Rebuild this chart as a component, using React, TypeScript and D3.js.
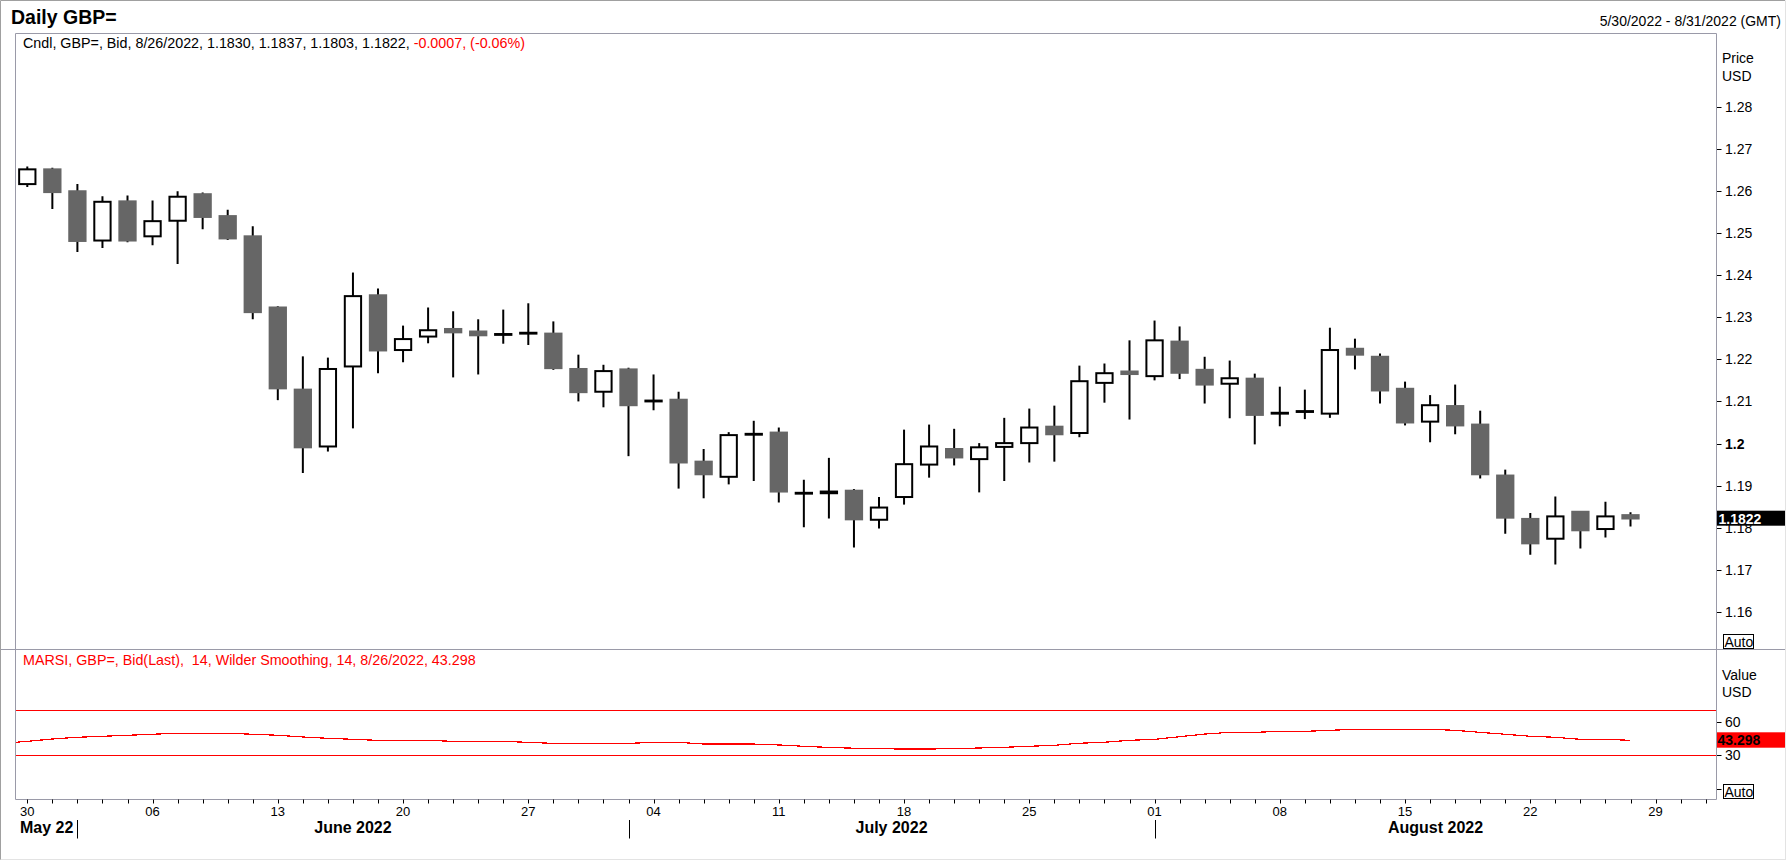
import React from 'react';
import * as d3 from 'd3';

// ---------- data ----------
const dates = [
  '2022-05-30', '2022-05-31', '2022-06-01', '2022-06-02', '2022-06-03',
  '2022-06-06', '2022-06-07', '2022-06-08', '2022-06-09', '2022-06-10',
  '2022-06-13', '2022-06-14', '2022-06-15', '2022-06-16', '2022-06-17',
  '2022-06-20', '2022-06-21', '2022-06-22', '2022-06-23', '2022-06-24',
  '2022-06-27', '2022-06-28', '2022-06-29', '2022-06-30', '2022-07-01',
  '2022-07-04', '2022-07-05', '2022-07-06', '2022-07-07', '2022-07-08',
  '2022-07-11', '2022-07-12', '2022-07-13', '2022-07-14', '2022-07-15',
  '2022-07-18', '2022-07-19', '2022-07-20', '2022-07-21', '2022-07-22',
  '2022-07-25', '2022-07-26', '2022-07-27', '2022-07-28', '2022-07-29',
  '2022-08-01', '2022-08-02', '2022-08-03', '2022-08-04', '2022-08-05',
  '2022-08-08', '2022-08-09', '2022-08-10', '2022-08-11', '2022-08-12',
  '2022-08-15', '2022-08-16', '2022-08-17', '2022-08-18', '2022-08-19',
  '2022-08-22', '2022-08-23', '2022-08-24', '2022-08-25', '2022-08-26',
];

const opens = [
  1.2616, 1.2651, 1.2599, 1.2482, 1.2575, 1.2492, 1.2529, 1.2592, 1.2540, 1.2492,
  1.2323, 1.2128, 1.1993, 1.2183, 1.2352, 1.2222, 1.2254, 1.2272, 1.2266, 1.2258,
  1.2261, 1.2261, 1.2177, 1.2123, 1.2176, 1.2100, 1.2104, 1.1957, 1.1921, 1.2021,
  1.2026, 1.1881, 1.1882, 1.1888, 1.1819, 1.1873, 1.1950, 1.1987, 1.1963, 1.1992,
  1.2001, 1.2040, 1.2025, 1.2144, 1.2171, 1.2160, 1.2242, 1.2175, 1.2142, 1.2154,
  1.2071, 1.2075, 1.2071, 1.2225, 1.2206, 1.2130, 1.2052, 1.2089, 1.2045, 1.1924,
  1.1821, 1.1774, 1.1838, 1.1797, 1.1830,
];
const highs = [
  1.2658, 1.2655, 1.2616, 1.2587, 1.2589, 1.2577, 1.2599, 1.2596, 1.2555, 1.2516,
  1.2326, 1.2207, 1.2204, 1.2406, 1.2368, 1.2280, 1.2323, 1.2314, 1.2295, 1.2318,
  1.2333, 1.2290, 1.2211, 1.2187, 1.2180, 1.2164, 1.2123, 1.1987, 1.2027, 1.2054,
  1.2038, 1.1914, 1.1966, 1.1892, 1.1873, 1.2033, 1.2045, 1.2035, 1.2001, 1.2061,
  1.2083, 1.2090, 1.2185, 1.2190, 1.2245, 1.2292, 1.2278, 1.2206, 1.2197, 1.2166,
  1.2135, 1.2128, 1.2275, 1.2249, 1.2214, 1.2147, 1.2115, 1.2140, 1.2078, 1.1938,
  1.1835, 1.1874, 1.1838, 1.1862, 1.1837,
];
const lows = [
  1.2609, 1.2557, 1.2455, 1.2464, 1.2478, 1.2471, 1.2426, 1.2509, 1.2483, 1.2295,
  1.2103, 1.1930, 1.1981, 1.2036, 1.2167, 1.2193, 1.2238, 1.2157, 1.2164, 1.2237,
  1.2234, 1.2175, 1.2100, 1.2086, 1.1970, 1.2079, 1.1893, 1.1870, 1.1903, 1.1911,
  1.1860, 1.1801, 1.1822, 1.1753, 1.1798, 1.1855, 1.1919, 1.1948, 1.1884, 1.1911,
  1.1955, 1.1957, 1.2015, 1.2097, 1.2057, 1.2150, 1.2153, 1.2095, 1.2060, 1.1998,
  1.2041, 1.2058, 1.2061, 1.2176, 1.2095, 1.2043, 1.2003, 1.2022, 1.1917, 1.1786,
  1.1736, 1.1713, 1.1751, 1.1777, 1.1803,
];
const closes = [
  1.2651, 1.2597, 1.2481, 1.2574, 1.2482, 1.2528, 1.2586, 1.2538, 1.2487, 1.2312,
  1.2131, 1.1991, 1.2177, 1.2350, 1.2221, 1.2248, 1.2269, 1.2264, 1.2257, 1.2260,
  1.2263, 1.2179, 1.2122, 1.2172, 1.2091, 1.2102, 1.1955, 1.1927, 1.2020, 1.2023,
  1.1886, 1.1883, 1.1886, 1.1820, 1.1848, 1.1951, 1.1993, 1.1967, 1.1991, 1.2001,
  1.2038, 1.2022, 1.2148, 1.2167, 1.2165, 1.2245, 1.2168, 1.2140, 1.2155, 1.2068,
  1.2073, 1.2077, 1.2222, 1.2211, 1.2126, 1.2050, 1.2091, 1.2043, 1.1927, 1.1824,
  1.1763, 1.1827, 1.1794, 1.1827, 1.1822,
];

// extra axis days after the last candle
const axisExtraDates = ['2022-08-29', '2022-08-30', '2022-08-31'];

// MARSI value of the day before the first candle (line enters from the left edge)
const rsiLeadValue = 40.6;
const rsiValues = [
  42.4, 44.5, 46.0, 46.9, 47.8, 48.7, 49.6, 49.6, 49.6, 48.7,
  47.8, 46.3, 45.1, 44.2, 43.3, 43.3, 43.3, 42.4, 42.4, 42.4,
  41.5, 40.6, 40.6, 40.6, 40.6, 41.5, 41.5, 40.0, 40.0, 40.0,
  39.2, 38.0, 37.0, 36.3, 35.8, 35.6, 35.6, 35.9, 36.5, 37.1,
  38.0, 38.9, 40.7, 41.6, 43.3, 44.2, 46.5, 48.9, 50.4, 50.4,
  51.3, 51.3, 52.2, 53.1, 53.1, 53.1, 53.1, 52.2, 50.4, 48.7,
  46.9, 46.0, 44.2, 44.2, 43.298,
];

const priceTicks = [1.16, 1.17, 1.18, 1.19, 1.2, 1.21, 1.22, 1.23, 1.24, 1.25, 1.26, 1.27, 1.28];
const priceBoldTick = 1.2;
const rsiTicks = [60, 30, 0];
const rsiLabeledTicks = [60, 30];
const rsiBands = [70, 30];
const monthLabels = ['May 22', 'June 2022', 'July 2022', 'August 2022'];

const titleText = 'Daily GBP=';
const rangeText = '5/30/2022 - 8/31/2022 (GMT)';
const legendBlack = 'Cndl, GBP=, Bid, 8/26/2022, 1.1830, 1.1837, 1.1803, 1.1822, ';
const legendRed = '-0.0007, (-0.06%)';
const rsiLegend = 'MARSI, GBP=, Bid(Last),  14, Wilder Smoothing, 14, 8/26/2022, 43.298';
const lastPriceLabel = '1.1822';
const lastRsiLabel = '43.298';

// ---------- layout ----------
const W = 1788;
const H = 862;
const plotL = 15.5;
const plotR = 1716.5;
const priceTop = 33.5;
const priceBottom = 649.5;
const rsiBottom = 799.5;
const FONT = '"Liberation Sans", Arial, Helvetica, sans-serif';
const BORDER = '#9a9aa8';

export default function App() {
  const axisDates = [...dates, ...axisExtraDates];
  const parse = d3.timeParse('%Y-%m-%d');
  const axisParsed = axisDates.map((d) => parse(d) as Date);

  const x = d3.scaleLinear().domain([0, 67]).range([27.3, 27.3 + 67 * 25.05]);
  const y = d3.scaleLinear().domain([1.16, 1.28]).range([612, 106.6]);
  const yr = d3.scaleLinear().domain([30, 70]).range([755.3, 710.3]);

  const bodyW = 18.3;

  const rsiPts: [number, number][] = [[-1, rsiLeadValue], ...rsiValues.map((v, i) => [i, v] as [number, number])];
  const rsiLine = d3
    .line<[number, number]>()
    .x((d) => x(d[0]))
    .y((d) => yr(d[1]))(rsiPts);

  const monthStarts: number[] = [];
  axisParsed.forEach((d, i) => {
    if (i === 0 || d.getMonth() !== axisParsed[i - 1].getMonth()) monthStarts.push(i);
  });
  const fmtDay = d3.timeFormat('%d');

  return (
    <svg
      width={W}
      height={H}
      viewBox={`0 0 ${W} ${H}`}
      style={{ position: 'absolute', left: 0, top: 0, background: '#fff' }}
      fontFamily={FONT}
    >
      <rect x={0} y={0} width={W} height={H} fill="#fff" />
      {/* outer frame */}
      <line x1={0.5} y1={0.5} x2={W - 3} y2={0.5} stroke="#a0a0a0" />
      <line x1={0.5} y1={0.5} x2={0.5} y2={H - 2} stroke="#a0a0a0" />
      <line x1={W - 2.5} y1={0.5} x2={W - 2.5} y2={H - 2} stroke="#e3e3e3" />
      <line x1={0.5} y1={H - 2.5} x2={W - 2.5} y2={H - 2.5} stroke="#e3e3e3" />

      {/* header */}
      <text x={11} y={24} fontSize={19.5} fontWeight="bold" fill="#000">
        {titleText}
      </text>
      <text x={1781} y={26} fontSize={14} textAnchor="end" fill="#000">
        {rangeText}
      </text>

      <defs>
        <clipPath id="priceClip">
          <rect x={plotL} y={priceTop} width={plotR - plotL} height={priceBottom - priceTop} />
        </clipPath>
        <clipPath id="rsiClip">
          <rect x={plotL} y={priceBottom} width={plotR - plotL} height={rsiBottom - priceBottom} />
        </clipPath>
      </defs>

      {/* candles */}
      <g clipPath="url(#priceClip)">
        {dates.map((d, i) => {
          const cx = x(i);
          const o = opens[i];
          const c = closes[i];
          const up = c >= o;
          const top = y(Math.max(o, c));
          const bot = y(Math.min(o, c));
          return (
            <g key={d}>
              <line x1={cx} x2={cx} y1={y(highs[i])} y2={y(lows[i])} stroke="#000" strokeWidth={2} />
              {up ? (
                <rect
                  x={cx - bodyW / 2 + 1}
                  y={top}
                  width={bodyW - 2}
                  height={Math.max(bot - top, 0.01)}
                  fill="#fff"
                  stroke="#000"
                  strokeWidth={2}
                />
              ) : (
                <rect
                  x={cx - bodyW / 2}
                  y={top - 1}
                  width={bodyW}
                  height={Math.max(bot - top + 2, 3)}
                  fill="#666666"
                />
              )}
            </g>
          );
        })}
      </g>

      {/* legend */}
      <text x={23} y={48} fontSize={14.3} style={{ whiteSpace: 'pre' }}>
        <tspan fill="#000">{legendBlack}</tspan>
        <tspan fill="#ff0000">{legendRed}</tspan>
      </text>

      {/* price axis */}
      <text x={1722} y={63} fontSize={14} fill="#000">Price</text>
      <text x={1722} y={81} fontSize={14} fill="#000">USD</text>
      {priceTicks.map((v) => (
        <g key={v}>
          <line x1={plotR} x2={plotR + 5} y1={Math.round(y(v)) + 0.5} y2={Math.round(y(v)) + 0.5} stroke="#000" />
          <text
            x={1725}
            y={y(v)}
            dy="0.36em"
            fontSize={14}
            fontWeight={v === priceBoldTick ? 'bold' : 'normal'}
            fill="#000"
          >
            {String(+v.toFixed(2))}
          </text>
        </g>
      ))}
      <rect x={plotR} y={510.7} width={W - 3 - plotR} height={15} fill="#000" />
      <text x={1718.5} y={523.5} fontSize={14} fontWeight="bold" fill="#fff">
        {lastPriceLabel}
      </text>
      <rect x={1723.5} y={634.5} width={30} height={14} fill="#fff" stroke="#000" />
      <text x={1724.5} y={646.5} fontSize={14} fill="#000">Auto</text>

      {/* RSI panel */}
      <text x={23} y={665} fontSize={14.3} fill="#ff0000" style={{ whiteSpace: 'pre' }}>
        {rsiLegend}
      </text>
      <g clipPath="url(#rsiClip)">
        {rsiBands.map((b) => (
          <line
            key={b}
            x1={plotL}
            x2={plotR}
            y1={Math.round(yr(b)) + 0.5}
            y2={Math.round(yr(b)) + 0.5}
            stroke="#ff0000"
            strokeWidth={1.2}
          />
        ))}
        <path d={rsiLine || ''} fill="none" stroke="#ff0000" strokeWidth={1.2} shapeRendering="crispEdges" />
      </g>
      <text x={1722} y={680} fontSize={14} fill="#000">Value</text>
      <text x={1722} y={697} fontSize={14} fill="#000">USD</text>
      {rsiTicks.map((v) => (
        <g key={v}>
          <line x1={plotR} x2={plotR + 5} y1={Math.round(yr(v)) + 0.5} y2={Math.round(yr(v)) + 0.5} stroke="#000" />
          {rsiLabeledTicks.includes(v) && (
            <text x={1725} y={yr(v)} dy="0.36em" fontSize={14} fill="#000">
              {v}
            </text>
          )}
        </g>
      ))}
      <rect x={plotR} y={732.3} width={W - 3 - plotR} height={15.4} fill="#ff0000" />
      <text x={1717.5} y={745.3} fontSize={14} fontWeight="bold" fill="#000">
        {lastRsiLabel}
      </text>
      <rect x={1723.5} y={784.5} width={30} height={14} fill="#fff" stroke="#000" />
      <text x={1724.5} y={796.5} fontSize={14} fill="#000">Auto</text>

      {/* panel borders */}
      <line x1={plotL} x2={plotR} y1={priceTop} y2={priceTop} stroke={BORDER} />
      <line x1={plotL} x2={plotL} y1={priceTop} y2={rsiBottom} stroke={BORDER} />
      <line x1={plotR} x2={plotR} y1={priceTop} y2={rsiBottom} stroke={BORDER} />
      <line x1={1} x2={W - 3} y1={priceBottom} y2={priceBottom} stroke={BORDER} />
      <line x1={plotL} x2={plotR} y1={rsiBottom} y2={rsiBottom} stroke={BORDER} />

      {/* time axis */}
      {axisParsed.map((d, i) => {
        const xx = Math.round(x(i)) + 0.5;
        const isMonday = d.getDay() === 1;
        return (
          <g key={axisDates[i]}>
            <line x1={xx} x2={xx} y1={rsiBottom} y2={rsiBottom + 4} stroke="#000" />
            {isMonday && (
              <text x={x(i)} y={815.5} fontSize={13} textAnchor="middle" fill="#000">
                {fmtDay(d)}
              </text>
            )}
          </g>
        );
      })}
      {monthStarts.map((s, k) => {
        const start = k === 0 ? plotL : x(s);
        const end = k + 1 < monthStarts.length ? x(monthStarts[k + 1]) : plotR;
        const sepX = Math.round(x(s)) + 0.5;
        return (
          <g key={s}>
            {k > 0 && <line x1={sepX} x2={sepX} y1={820} y2={838.5} stroke="#000" />}
            {k === 0 ? (
              <text x={20} y={833.3} fontSize={16} fontWeight="bold" fill="#000">
                {monthLabels[k]}
              </text>
            ) : (
              <text x={(start + end) / 2} y={833.3} fontSize={16} fontWeight="bold" textAnchor="middle" fill="#000">
                {monthLabels[k]}
              </text>
            )}
          </g>
        );
      })}
    </svg>
  );
}
